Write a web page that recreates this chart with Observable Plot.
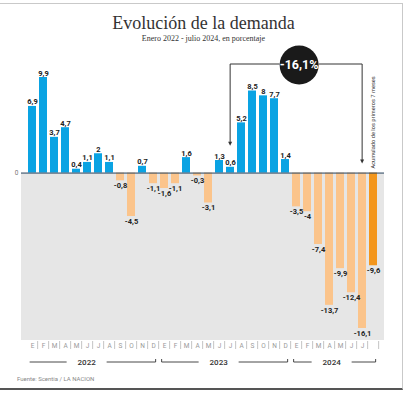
<!DOCTYPE html>
<html><head><meta charset="utf-8">
<script src="https://cdn.jsdelivr.net/npm/d3@7"></script>
<script src="https://cdn.jsdelivr.net/npm/@observablehq/plot@0.6"></script>
<style>
body{margin:0;background:#fff;width:407px;height:395px;overflow:hidden;position:relative;font-family:Roboto,sans-serif}
#frame{position:absolute;left:-2px;top:3px;width:405px;height:387px;box-sizing:border-box;border-top:1px solid #c9c9c9;border-right:1px solid #c9c9c9;border-bottom:2px solid #555}
#title{position:absolute;top:14px;left:0;width:407px;text-align:center;font-family:"Liberation Serif",serif;font-size:18px;line-height:18px;color:#333}
#sub{position:absolute;top:35px;left:0;width:407px;text-align:center;font-family:"Liberation Serif",serif;font-size:8px;line-height:8px;color:#333}
#chart{position:absolute;top:44px;left:0}
#src{position:absolute;left:17px;top:376px;font-size:6px;line-height:6px;color:#888}
</style></head>
<body>
<div id="frame"></div>
<div id="title">Evolución de la demanda</div>
<div id="sub">Enero 2022 - julio 2024, en porcentaje</div>
<div id="chart"></div>
<div id="src">Fuente: Scentia / LA NACION</div>
<script>
const months = ["E","F","M","A","M","J","J","A","S","O","N","D"];
const years = ["2022","2023","2024"];
const values2022 = [6.9,9.9,3.7,4.7,0.4,1.1,2,1.1,-0.8,-4.5,0.7,-1.1];
const values2023 = [-1.6,-1.1,1.6,-0.3,-3.1,1.3,0.6,5.2,8.5,8,7.7,1.4];
const values2024 = [-3.5,-4,-7.4,-13.7,-9.9,-12.4,-16.1];
const cumulative2024 = -9.6;
const cumulativeLabel = "Acumulado de los primeros 7 meses";
const highlightLabel = "-16,1%";
const highlightFrom = "2023-6";
const highlightTo = "2024-6";

const data = [];
[values2022, values2023, values2024].forEach((vals, yi) =>
  vals.forEach((v, mi) => data.push({key: `${years[yi]}-${mi}`, year: years[yi], month: months[mi], value: v, kind: v >= 0 ? "pos" : "neg"})));
data.push({key: "2024-cum", year: "2024", month: "", value: cumulative2024, kind: "cum"});
const keys = data.map(d => d.key);
const fmt = v => String(v).replace(".", ",");
const W = 407, H = 345, ML = 21, MR = 23, MB = 44;

function geom(scales) {
  const x = scales.x;
  const step = x(keys[1]) - x(keys[0]);
  const bw = step * 0.75;
  return {step, bw, cx: k => x(k) + bw / 2};
}

function background(index, scales, values, dim) {
  const g = d3.create("svg:g");
  const y0 = scales.y(0);
  g.append("rect").attr("x", dim.marginLeft).attr("width", dim.width - dim.marginLeft - dim.marginRight)
    .attr("y", y0).attr("height", dim.height - dim.marginBottom - 5 - y0).attr("fill", "#e6e6e6");
  return g.node();
}

function overlay(index, scales, values, dim) {
  const g = d3.create("svg:g");
  const {step, bw, cx} = geom(scales);
  const x = scales.x, y = scales.y;
  const yb = dim.height - dim.marginBottom;
  // separators
  keys.forEach(k => {
    const sx = cx(k) + step / 2;
    g.append("line").attr("x1", sx).attr("x2", sx).attr("y1", yb - 4).attr("y2", yb + 4)
      .attr("stroke", "#b5b5b5").attr("stroke-width", 0.8);
  });
  // year brackets
  const ly = yb + 17;
  years.forEach((yr, i) => {
    const ks = keys.filter(k => k.startsWith(yr));
    const s = x(ks[0]) - step * 0.125 + 3;
    const e = x(ks[ks.length - 1]) + bw + step * 0.125 - 3;
    const m = (s + e) / 2 - (i < 2 ? 6 : 3);
    const path = d3.path();
    if (i > 0) { path.moveTo(s, ly - 3); path.lineTo(s, ly); } else path.moveTo(s, ly);
    path.lineTo(m - 20, ly);
    path.moveTo(m + 20, ly); path.lineTo(e, ly); path.lineTo(e, ly - 3);
    g.append("path").attr("d", path.toString()).attr("fill", "none").attr("stroke", "#333").attr("stroke-width", 0.9);
    g.append("text").attr("x", m).attr("y", ly).attr("dy", "0.35em").attr("text-anchor", "middle")
      .attr("font-size", 8).attr("font-weight", 500).attr("fill", "#333").text(yr);
  });
  // annotation
  const xa = cx(highlightFrom), xb = cx(highlightTo);
  const ccx = (xa + xb) / 2 + 3, ccy = y(9.9) - 12, r = 19.5;
  const hy = ccy - 1;
  const tipA = y(0.6) - 21, tipB = y(0) - 9;
  const p = d3.path();
  p.moveTo(ccx - r, hy); p.lineTo(xa, hy); p.lineTo(xa, tipA - 3);
  p.moveTo(ccx + r, hy); p.lineTo(xb, hy); p.lineTo(xb, tipB - 3);
  g.append("path").attr("d", p.toString()).attr("fill", "none").attr("stroke", "#333").attr("stroke-width", 1);
  [[xa, tipA], [xb, tipB]].forEach(([ax, ay]) =>
    g.append("path").attr("d", `M${ax - 2},${ay - 4}L${ax + 2},${ay - 4}L${ax},${ay}Z`).attr("fill", "#333"));
  g.append("circle").attr("cx", ccx).attr("cy", ccy).attr("r", r).attr("fill", "#1a1a1a");
  g.append("text").attr("x", ccx).attr("y", ccy).attr("dy", "0.35em").attr("text-anchor", "middle")
    .attr("font-size", 12.5).attr("font-weight", 700).attr("fill", "#fff").text(highlightLabel);
  // cumulative label
  const cxc = cx("2024-cum");
  g.append("text").attr("transform", `translate(${cxc + 2.2},${y(0) - 4}) rotate(-90)`)
    .attr("text-anchor", "start").attr("font-size", 5.7).attr("fill", "#333").text(cumulativeLabel);
  return g.node();
}

const chart = Plot.plot({
  width: W, height: H,
  marginLeft: ML, marginRight: MR, marginTop: 0, marginBottom: MB,
  x: {type: "band", domain: keys, paddingInner: 0.25, paddingOuter: 0.125, axis: null},
  y: {domain: [-16.1, 9.9], range: [284, 33], axis: null},
  color: {domain: ["pos", "neg", "cum"], range: ["#0aa3e3", "#fbc48b", "#f3961c"]},
  style: {fontFamily: "Roboto, sans-serif", background: "transparent", overflow: "visible"},
  marks: [
    background,
    Plot.barY(data, {x: "key", y: "value", fill: "kind"}),
    Plot.ruleY([0], {stroke: "#2a4560", strokeWidth: 1}),
    Plot.text([0], {y: d => d, text: () => "0", frameAnchor: "left", dx: -3, textAnchor: "end", fontSize: 6.5, fill: "#777"}),
    Plot.text(data.filter(d => d.value >= 0), {x: "key", y: "value", text: d => fmt(d.value), lineAnchor: "bottom", dy: -2, fontSize: 7.5, fontWeight: 700, fill: "#222"}),
    Plot.text(data.filter(d => d.value < 0), {x: "key", y: "value", text: d => fmt(d.value), lineAnchor: "top", dy: 2, fontSize: 7.5, fontWeight: 700, fill: "#222"}),
    Plot.text(data, {x: "key", text: "month", frameAnchor: "bottom", lineAnchor: "middle", fontSize: 6.5, fill: "#999"}),
    overlay
  ]
});
document.getElementById("chart").appendChild(chart);
</script>
</body></html>
